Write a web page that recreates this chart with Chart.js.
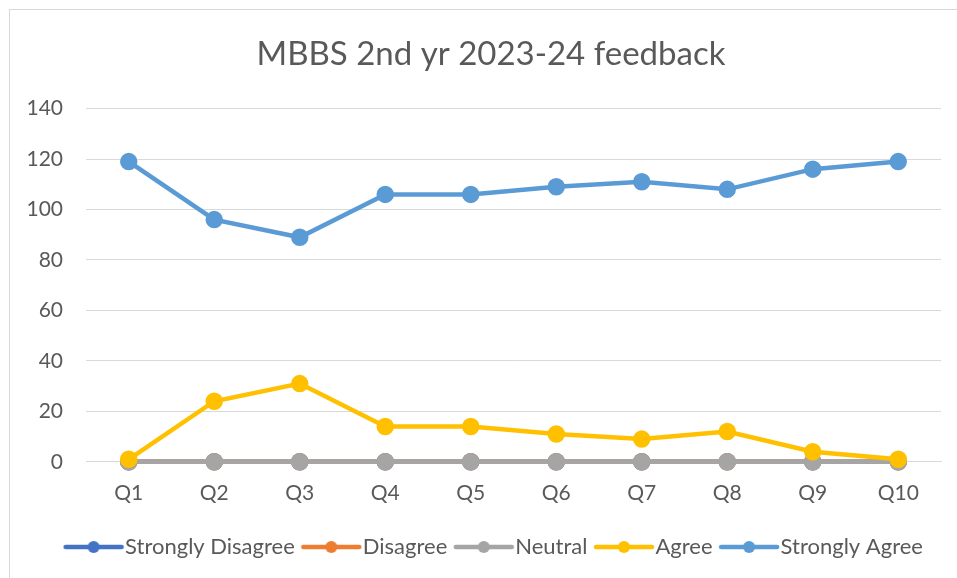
<!DOCTYPE html>
<html>
<head>
<meta charset="utf-8">
<title>MBBS 2nd yr 2023-24 feedback</title>
<script src="https://cdn.jsdelivr.net/npm/chart.js@4.4.1/dist/chart.umd.min.js"></script>
<style>
	html, body { margin: 0; padding: 0; background: #fff; }
	#wrap { position: relative; width: 957px; height: 578px; }
	#frame { position: absolute; left: 9px; top: 9px; right: 0; bottom: 0; border-left: 1px solid #d9d9d9; border-top: 1px solid #d9d9d9; }
	#feedback_chart { position: absolute; left: 0; top: 0; }
</style>
</head>
<body>
<div id="wrap">
	<div id="frame"></div>
	<canvas id="feedback_chart" width="957" height="578"></canvas>
</div>
<script>
var questionLabels = ['Q1', 'Q2', 'Q3', 'Q4', 'Q5', 'Q6', 'Q7', 'Q8', 'Q9', 'Q10'];
var stronglyDisagreeData = [0, 0, 0, 0, 0, 0, 0, 0, 0, 0];
var disagreeData = [0, 0, 0, 0, 0, 0, 0, 0, 0, 0];
var neutralData = [0, 0, 0, 0, 0, 0, 0, 0, 0, 0];
var agreeData = [1, 24, 31, 14, 14, 11, 9, 12, 4, 1];
var stronglyAgreeData = [119, 96, 89, 106, 106, 109, 111, 108, 116, 119];
var yTicks = [0, 20, 40, 60, 80, 100, 120, 140];

var FONT = "Lato, 'Open Sans', sans-serif";
var TEXT_COLOR = '#595959';

Chart.defaults.font.family = FONT;
Chart.defaults.color = TEXT_COLOR;

/*legend marker: line with a dot, like the office style*/
function legendMarker(color) {
	var c = document.createElement('canvas');
	c.width = 62;
	c.height = 14;
	var ctx = c.getContext('2d');
	ctx.strokeStyle = color;
	ctx.lineWidth = 4.5;
	ctx.lineCap = 'round';
	ctx.beginPath();
	ctx.moveTo(3, 7);
	ctx.lineTo(59, 7);
	ctx.stroke();
	ctx.fillStyle = color;
	ctx.beginPath();
	ctx.arc(31, 7, 6, 0, Math.PI * 2);
	ctx.fill();
	return c;
}

function makeSeries(label, data, color, order) {
	return {
		label: label,
		data: data,
		borderColor: color,
		backgroundColor: color,
		pointBackgroundColor: color,
		pointBorderColor: color,
		borderWidth: 4.5,
		pointRadius: 6.5,
		pointHoverRadius: 6.5,
		tension: 0,
		fill: false,
		clip: false,
		order: order,
		pointStyle: 'circle',
		markerImg: legendMarker(color)
	};
}

/*title and legend are centred a bit right of the canvas middle*/
var centerBlocks = {
	id: 'centerBlocks',
	afterLayout: function (chart) {
		var title = chart.titleBlock;
		title.left = 41;
		title.right = chart.chartArea.right;
		title.width = title.right - title.left;

		var legend = chart.legend;
		legend.left = 55;
		legend.right = chart.chartArea.right;
		legend.width = legend.right - legend.left;
	}
};

const feedback_chart = document.getElementById('feedback_chart');

var FeedbackChart = new Chart(feedback_chart, {
	type: 'line',
	data: {
		labels: questionLabels,
		datasets: [
			makeSeries('Strongly Disagree', stronglyDisagreeData, '#4472C4', 4),
			makeSeries('Disagree', disagreeData, '#ED7D31', 3),
			makeSeries('Neutral', neutralData, '#A5A5A5', 2),
			makeSeries('Agree', agreeData, '#FFC000', 1),
			makeSeries('Strongly Agree', stronglyAgreeData, '#5B9BD5', 0)
		]
	},
	plugins: [centerBlocks],
	options: {
		responsive: false,
		animation: false,
		layout: {
			padding: { left: 10, right: 16, top: 23, bottom: 10 }
		},
		scales: {
			x: {
				offset: true,
				grid: { display: false, drawTicks: false },
				border: { display: true, color: '#d9d9d9', width: 1 },
				afterFit: function (axis) {
					axis.height = axis.height - 5;
				},
				ticks: { padding: 19, font: { size: 21 }, color: TEXT_COLOR }
			},
			y: {
				min: 0,
				max: 140,
				afterBuildTicks: function (axis) {
					axis.ticks = yTicks.map(function (v) { return { value: v }; });
				},
				afterFit: function (axis) {
					axis.width = 76;
				},
				grid: { color: '#d9d9d9', lineWidth: 1, drawTicks: false },
				border: { display: false },
				ticks: { padding: 23, font: { size: 21 }, color: TEXT_COLOR }
			}
		},
		plugins: {
			title: {
				display: true,
				text: 'MBBS 2nd yr 2023-24 feedback',
				color: TEXT_COLOR,
				font: { size: 33, weight: 'normal' },
				padding: { top: 12, bottom: 34 }
			},
			legend: {
				display: true,
				position: 'bottom',
				labels: {
					usePointStyle: true,
					pointStyleWidth: 41,
					padding: 16,
					color: TEXT_COLOR,
					font: { size: 22 },
					sort: function (a, b) { return a.datasetIndex - b.datasetIndex; },
					generateLabels: function (chart) {
						var items = Chart.defaults.plugins.legend.labels.generateLabels(chart);
						items.forEach(function (item) {
							item.pointStyle = chart.data.datasets[item.datasetIndex].markerImg;
						});
						return items;
					}
				}
			},
			tooltip: { enabled: false }
		}
	}
});
</script>
</body>
</html>
